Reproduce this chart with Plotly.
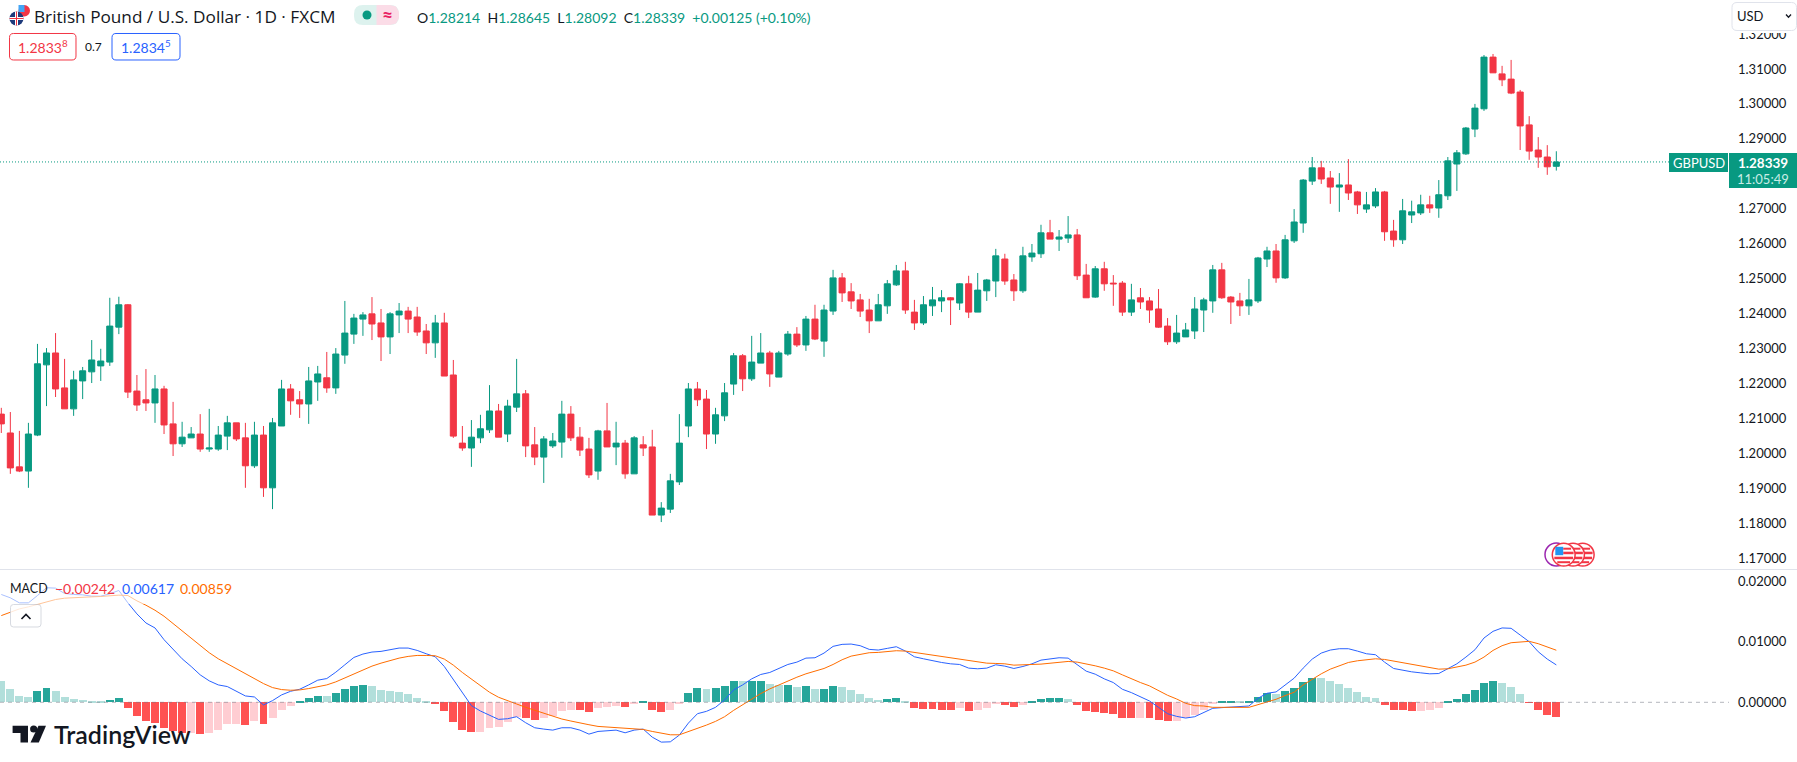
import plotly.graph_objects as go

W, H = 1797, 762

opens = [
    1.2112, 1.2058, 1.1961, 1.1949, 1.2052, 1.2253, 1.2287, 1.2187, 1.2127, 1.2207,
    1.2233, 1.2250, 1.2261, 1.2361, 1.2425, 1.2178, 1.2153, 1.2144, 1.2184, 1.2084,
    1.2027, 1.2044, 1.2055, 1.2012, 1.2012, 1.2049, 1.2087, 1.2044, 1.1964, 1.2052,
    1.1901, 1.2078, 1.2184, 1.2153, 1.2141, 1.2204, 1.2216, 1.2187, 1.2281, 1.2341,
    1.2384, 1.2399, 1.2373, 1.2333, 1.2396, 1.2407, 1.2390, 1.2350, 1.2316, 1.2373,
    1.2224, 1.2029, 1.2015, 1.2044, 1.2067, 1.2121, 1.2055, 1.2132, 1.2170, 1.2024,
    1.1989, 1.2021, 1.2032, 1.2112, 1.2046, 1.2012, 1.1949, 1.2064, 1.2018, 1.2029,
    1.1941, 1.2024, 1.2018, 1.1823, 1.1840, 1.1918, 1.2078, 1.2184, 1.2155, 1.2055,
    1.2107, 1.2198, 1.2279, 1.2213, 1.2258, 1.2287, 1.2218, 1.2284, 1.2341, 1.2310,
    1.2384, 1.2321, 1.2407, 1.2502, 1.2462, 1.2439, 1.2410, 1.2379, 1.2422, 1.2482,
    1.2522, 1.2404, 1.2373, 1.2422, 1.2436, 1.2445, 1.2430, 1.2485, 1.2404, 1.2465,
    1.2493, 1.2556, 1.2496, 1.2465, 1.2562, 1.2571, 1.2631, 1.2613, 1.2616, 1.2625,
    1.2510, 1.2447, 1.2528, 1.2487, 1.2487, 1.2404, 1.2445, 1.2436, 1.2413, 1.2364,
    1.2319, 1.2333, 1.2350, 1.2410, 1.2436, 1.2525, 1.2447, 1.2436, 1.2422, 1.2436,
    1.2556, 1.2579, 1.2502, 1.2608, 1.2659, 1.2779, 1.2817, 1.2788, 1.2762, 1.2768,
    1.2748, 1.2699, 1.2708, 1.2748, 1.2636, 1.2611, 1.2682, 1.2688, 1.2711, 1.2702,
    1.2737, 1.2828, 1.2857, 1.2928, 1.2986, 1.3134, 1.3086, 1.3071, 1.3034, 1.2940,
    1.2868, 1.2848, 1.28214,
]
highs = [
    1.2130, 1.2118, 1.2064, 1.2087, 1.2313, 1.2301, 1.2344, 1.2270, 1.2236, 1.2247,
    1.2324, 1.2299, 1.2445, 1.2448, 1.2427, 1.2224, 1.2241, 1.2224, 1.2193, 1.2147,
    1.2090, 1.2075, 1.2112, 1.2127, 1.2078, 1.2107, 1.2087, 1.2087, 1.2090, 1.2078,
    1.2101, 1.2210, 1.2198, 1.2178, 1.2247, 1.2250, 1.2290, 1.2301, 1.2436, 1.2399,
    1.2404, 1.2447, 1.2413, 1.2404, 1.2430, 1.2419, 1.2419, 1.2370, 1.2396, 1.2402,
    1.2267, 1.2078, 1.2095, 1.2110, 1.2195, 1.2141, 1.2153, 1.2270, 1.2181, 1.2075,
    1.2049, 1.2058, 1.2150, 1.2135, 1.2075, 1.2044, 1.2067, 1.2144, 1.2090, 1.2038,
    1.2049, 1.2049, 1.2067, 1.1860, 1.1941, 1.2112, 1.2201, 1.2204, 1.2181, 1.2130,
    1.2201, 1.2287, 1.2284, 1.2336, 1.2344, 1.2293, 1.2293, 1.2350, 1.2361, 1.2393,
    1.2425, 1.2425, 1.2525, 1.2516, 1.2487, 1.2456, 1.2442, 1.2456, 1.2496, 1.2539,
    1.2548, 1.2439, 1.2450, 1.2476, 1.2467, 1.2447, 1.2487, 1.2508, 1.2516, 1.2499,
    1.2585, 1.2571, 1.2513, 1.2591, 1.2599, 1.2654, 1.2668, 1.2639, 1.2679, 1.2642,
    1.2542, 1.2536, 1.2548, 1.2510, 1.2493, 1.2485, 1.2473, 1.2447, 1.2470, 1.2387,
    1.2396, 1.2373, 1.2447, 1.2445, 1.2539, 1.2545, 1.2450, 1.2459, 1.2499, 1.2562,
    1.2591, 1.2599, 1.2625, 1.2699, 1.2785, 1.2848, 1.2837, 1.2808, 1.2802, 1.2842,
    1.2751, 1.2748, 1.2759, 1.2751, 1.2668, 1.2728, 1.2723, 1.2740, 1.2737, 1.2782,
    1.2848, 1.2868, 1.2934, 1.3000, 1.3140, 1.3143, 1.3109, 1.3126, 1.3040, 1.2965,
    1.2905, 1.2882, 1.28645,
]
lows = [
    1.2058, 1.1941, 1.1946, 1.1901, 1.2049, 1.2135, 1.2161, 1.2127, 1.2107, 1.2155,
    1.2201, 1.2207, 1.2250, 1.2341, 1.2158, 1.2121, 1.2121, 1.2087, 1.2055, 1.1992,
    1.2018, 1.2044, 1.2004, 1.2004, 1.2007, 1.2009, 1.2035, 1.1901, 1.1958, 1.1875,
    1.1840, 1.2078, 1.2110, 1.2101, 1.2084, 1.2150, 1.2173, 1.2170, 1.2256, 1.2313,
    1.2336, 1.2324, 1.2264, 1.2284, 1.2344, 1.2344, 1.2336, 1.2284, 1.2273, 1.2221,
    1.2044, 1.2007, 1.1961, 1.2029, 1.2058, 1.2046, 1.2032, 1.2118, 1.1989, 1.1966,
    1.1915, 1.2015, 1.1987, 1.2035, 1.1992, 1.1929, 1.1924, 1.2018, 1.1966, 1.1927,
    1.1941, 1.1992, 1.1823, 1.1803, 1.1829, 1.1909, 1.2046, 1.2135, 1.2012, 1.2027,
    1.2092, 1.2167, 1.2178, 1.2207, 1.2258, 1.2190, 1.2218, 1.2279, 1.2304, 1.2293,
    1.2324, 1.2276, 1.2396, 1.2433, 1.2413, 1.2390, 1.2344, 1.2379, 1.2399, 1.2479,
    1.2399, 1.2353, 1.2367, 1.2393, 1.2404, 1.2367, 1.2410, 1.2387, 1.2404, 1.2436,
    1.2447, 1.2482, 1.2436, 1.2459, 1.2548, 1.2559, 1.2613, 1.2579, 1.2602, 1.2496,
    1.2445, 1.2445, 1.2465, 1.2422, 1.2393, 1.2393, 1.2413, 1.2373, 1.2359, 1.2310,
    1.2313, 1.2333, 1.2327, 1.2347, 1.2402, 1.2442, 1.2370, 1.2393, 1.2396, 1.2430,
    1.2533, 1.2488, 1.2499, 1.2602, 1.2631, 1.2768, 1.2771, 1.2714, 1.2691, 1.2725,
    1.2685, 1.2688, 1.2702, 1.2608, 1.2591, 1.2599, 1.2659, 1.2682, 1.2688, 1.2674,
    1.2725, 1.2751, 1.2854, 1.2905, 1.2980, 1.3089, 1.3051, 1.3028, 1.2868, 1.2840,
    1.2817, 1.2797, 1.28092,
]
closes = [
    1.2084, 1.1958, 1.1949, 1.2055, 1.2256, 1.2287, 1.2184, 1.2127, 1.2210, 1.2236,
    1.2267, 1.2264, 1.2364, 1.2425, 1.2175, 1.2138, 1.2144, 1.2184, 1.2081, 1.2027,
    1.2046, 1.2055, 1.2012, 1.2015, 1.2052, 1.2087, 1.2041, 1.1964, 1.2052, 1.1901,
    1.2087, 1.2184, 1.2150, 1.2141, 1.2207, 1.2227, 1.2187, 1.2284, 1.2344, 1.2387,
    1.2396, 1.2370, 1.2333, 1.2399, 1.2407, 1.2384, 1.2347, 1.2316, 1.2373, 1.2221,
    1.2049, 1.2015, 1.2046, 1.2070, 1.2121, 1.2046, 1.2135, 1.2170, 1.2021, 1.1989,
    1.2041, 1.2035, 1.2112, 1.2044, 1.2009, 1.1938, 1.2064, 1.2018, 1.2029, 1.1941,
    1.2044, 1.2015, 1.1823, 1.1843, 1.1921, 1.2029, 1.2184, 1.2153, 1.2055, 1.2110,
    1.2173, 1.2279, 1.2213, 1.2261, 1.2287, 1.2227, 1.2287, 1.2341, 1.2310, 1.2384,
    1.2327, 1.2410, 1.2502, 1.2459, 1.2436, 1.2407, 1.2379, 1.2425, 1.2485, 1.2522,
    1.2410, 1.2373, 1.2425, 1.2439, 1.2445, 1.2439, 1.2485, 1.2404, 1.2467, 1.2496,
    1.2565, 1.2493, 1.2465, 1.2565, 1.2573, 1.2631, 1.2613, 1.2619, 1.2625, 1.2508,
    1.2445, 1.2528, 1.2485, 1.2485, 1.2404, 1.2439, 1.2433, 1.2410, 1.2361, 1.2319,
    1.2344, 1.2353, 1.2413, 1.2439, 1.2525, 1.2445, 1.2433, 1.2422, 1.2439, 1.2559,
    1.2579, 1.2502, 1.2611, 1.2662, 1.2782, 1.2817, 1.2785, 1.2762, 1.2768, 1.2745,
    1.2711, 1.2711, 1.2748, 1.2634, 1.2611, 1.2694, 1.2691, 1.2711, 1.2702, 1.2740,
    1.2837, 1.2860, 1.2931, 1.2988, 1.3134, 1.3089, 1.3069, 1.3031, 1.2937, 1.2865,
    1.2848, 1.2820, 1.28339,
]
macd_line = [
    0.01779, 0.01724, 0.01641, 0.01641, 0.01762, 0.01890, 0.01884, 0.01796, 0.01779, 0.01773,
    0.01751, 0.01751, 0.01790, 0.01845, 0.01641, 0.01459, 0.01309, 0.01227, 0.01033, 0.00867,
    0.00718, 0.00591, 0.00453, 0.00354, 0.00287, 0.00260, 0.00188, 0.00105, 0.00088, -0.00044,
    0.00028, 0.00122, 0.00182, 0.00215, 0.00287, 0.00365, 0.00392, 0.00497, 0.00619, 0.00740,
    0.00796, 0.00829, 0.00840, 0.00867, 0.00895, 0.00895, 0.00856, 0.00801, 0.00751, 0.00591,
    0.00370, 0.00149, -0.00055, -0.00144, -0.00210, -0.00282, -0.00271, -0.00238, -0.00337, -0.00420,
    -0.00442, -0.00459, -0.00420, -0.00420, -0.00459, -0.00525, -0.00481, -0.00464, -0.00459, -0.00503,
    -0.00459, -0.00442, -0.00575, -0.00657, -0.00652, -0.00541, -0.00343, -0.00188, -0.00149, -0.00083,
    0.00039, 0.00204, 0.00287, 0.00387, 0.00459, 0.00492, 0.00558, 0.00624, 0.00663, 0.00729,
    0.00735, 0.00812, 0.00923, 0.00956, 0.00961, 0.00934, 0.00873, 0.00862, 0.00890, 0.00917,
    0.00845, 0.00751, 0.00718, 0.00685, 0.00657, 0.00635, 0.00624, 0.00564, 0.00553, 0.00564,
    0.00619, 0.00597, 0.00558, 0.00591, 0.00635, 0.00696, 0.00718, 0.00735, 0.00729, 0.00624,
    0.00514, 0.00464, 0.00387, 0.00326, 0.00215, 0.00160, 0.00088, 0.00022, -0.00083, -0.00188,
    -0.00232, -0.00260, -0.00238, -0.00171, -0.00099, -0.00088, -0.00077, -0.00077, -0.00061, 0.00066,
    0.00149, 0.00171, 0.00282, 0.00398, 0.00564, 0.00713, 0.00812, 0.00862, 0.00884, 0.00884,
    0.00845, 0.00801, 0.00785, 0.00663, 0.00558, 0.00525, 0.00503, 0.00486, 0.00470, 0.00475,
    0.00558, 0.00635, 0.00746, 0.00867, 0.01061, 0.01171, 0.01227, 0.01221, 0.01110, 0.01000,
    0.00834, 0.00713, 0.00617,
]
signal_line = [
    0.01431, 0.01486, 0.01541, 0.01575, 0.01613, 0.01658, 0.01696, 0.01718, 0.01729, 0.01735,
    0.01740, 0.01746, 0.01757, 0.01768, 0.01762, 0.01674, 0.01602, 0.01519, 0.01420, 0.01298,
    0.01177, 0.01055, 0.00934, 0.00818, 0.00718, 0.00635, 0.00553, 0.00464, 0.00392, 0.00309,
    0.00243, 0.00210, 0.00199, 0.00204, 0.00227, 0.00260, 0.00287, 0.00337, 0.00403, 0.00464,
    0.00530, 0.00597, 0.00646, 0.00691, 0.00729, 0.00757, 0.00773, 0.00773, 0.00768, 0.00713,
    0.00613, 0.00492, 0.00381, 0.00265, 0.00166, 0.00083, 0.00022, -0.00028, -0.00083, -0.00133,
    -0.00182, -0.00227, -0.00276, -0.00309, -0.00343, -0.00370, -0.00398, -0.00409, -0.00420, -0.00431,
    -0.00442, -0.00448, -0.00481, -0.00514, -0.00536, -0.00536, -0.00486, -0.00436, -0.00376, -0.00315,
    -0.00238, -0.00133, -0.00039, 0.00061, 0.00144, 0.00221, 0.00287, 0.00359, 0.00414, 0.00470,
    0.00508, 0.00558, 0.00624, 0.00702, 0.00762, 0.00796, 0.00818, 0.00823, 0.00840, 0.00851,
    0.00845, 0.00823, 0.00801, 0.00773, 0.00751, 0.00724, 0.00707, 0.00685, 0.00663, 0.00646,
    0.00641, 0.00635, 0.00613, 0.00613, 0.00624, 0.00630, 0.00646, 0.00663, 0.00674, 0.00663,
    0.00635, 0.00602, 0.00564, 0.00519, 0.00453, 0.00387, 0.00326, 0.00271, 0.00193, 0.00116,
    0.00055, -0.00017, -0.00055, -0.00061, -0.00083, -0.00083, -0.00083, -0.00083, -0.00083, -0.00039,
    0.00006, 0.00050, 0.00111, 0.00166, 0.00287, 0.00381, 0.00470, 0.00547, 0.00608, 0.00657,
    0.00685, 0.00707, 0.00718, 0.00707, 0.00680, 0.00646, 0.00619, 0.00591, 0.00564, 0.00547,
    0.00553, 0.00580, 0.00613, 0.00663, 0.00746, 0.00856, 0.00934, 0.00983, 0.01000, 0.01006,
    0.00967, 0.00917, 0.00859,
]
histogram = [
    0.00354, 0.00221, 0.00105, 0.00088, 0.00188, 0.00238, 0.00188, 0.00088, 0.00055, 0.00039,
    0.00022, 0.00006, 0.00039, 0.00072, -0.00094, -0.00227, -0.00309, -0.00343, -0.00425, -0.00470,
    -0.00508, -0.00503, -0.00525, -0.00508, -0.00459, -0.00365, -0.00359, -0.00376, -0.00309, -0.00359,
    -0.00260, -0.00127, -0.00061, 0.00006, 0.00072, 0.00105, 0.00099, 0.00155, 0.00221, 0.00271,
    0.00287, 0.00271, 0.00204, 0.00188, 0.00171, 0.00138, 0.00072, 0.00006, -0.00028, -0.00144,
    -0.00326, -0.00459, -0.00492, -0.00486, -0.00425, -0.00409, -0.00326, -0.00238, -0.00260, -0.00293,
    -0.00260, -0.00227, -0.00144, -0.00127, -0.00133, -0.00160, -0.00094, -0.00077, -0.00061, -0.00077,
    -0.00022, 0.00006, -0.00127, -0.00160, -0.00127, -0.00017, 0.00155, 0.00238, 0.00221, 0.00238,
    0.00271, 0.00354, 0.00348, 0.00354, 0.00359, 0.00304, 0.00287, 0.00293, 0.00254, 0.00271,
    0.00221, 0.00227, 0.00271, 0.00254, 0.00204, 0.00138, 0.00072, 0.00039, 0.00055, 0.00072,
    0.00006, -0.00094, -0.00110, -0.00116, -0.00122, -0.00127, -0.00094, -0.00144, -0.00127, -0.00094,
    -0.00028, -0.00044, -0.00077, -0.00044, 0.00006, 0.00055, 0.00072, 0.00077, 0.00055, -0.00044,
    -0.00144, -0.00160, -0.00177, -0.00193, -0.00260, -0.00265, -0.00260, -0.00265, -0.00293, -0.00309,
    -0.00304, -0.00260, -0.00210, -0.00133, -0.00028, 0.00006, 0.00011, 0.00006, 0.00011, 0.00088,
    0.00155, 0.00138, 0.00188, 0.00238, 0.00337, 0.00403, 0.00398, 0.00354, 0.00304, 0.00238,
    0.00171, 0.00088, 0.00072, -0.00044, -0.00127, -0.00133, -0.00144, -0.00138, -0.00133, -0.00094,
    0.00006, 0.00055, 0.00138, 0.00204, 0.00320, 0.00354, 0.00320, 0.00254, 0.00138, -0.00006,
    -0.00127, -0.00210, -0.00242,
]
# 1.28 sits behind the last price label, so the reference never shows it
price_ticks = [1.17, 1.18, 1.19, 1.20, 1.21, 1.22, 1.23, 1.24, 1.25, 1.26, 1.27, 1.29, 1.30, 1.31, 1.32]
macd_ticks = [0.0, 0.01, 0.02]

UP, DOWN = "#089981", "#F23645"
INK = "#131722"
FONT = "Lato"
days = list(range(len(closes)))


def hist_colour(i):
    prev = histogram[i - 1] if i else float("inf")
    if histogram[i] >= 0:
        return "#26A69A" if histogram[i] > prev else "#B2DFDB"
    return "#FFCDD2" if histogram[i] > prev else "#FF5252"


# everything around the plot is placed in screen pixels
def px(x):
    return x / W


def py(y):
    return 1 - y / H


def box(x0, y0, x1, y1, fill="white", line=None, width=1, opacity=1, kind="rect"):
    return dict(type=kind, xref="paper", yref="paper", x0=px(x0), x1=px(x1), y0=py(y0), y1=py(y1),
                fillcolor=fill, opacity=opacity, line=dict(color=line or fill, width=width if line else 0))


def path(points, fill=None, line=None, width=1, close=True):
    d = "M" + " L".join(f"{px(a):.5f},{py(b):.5f}" for a, b in points) + (" Z" if close else "")
    return dict(type="path", xref="paper", yref="paper", path=d, fillcolor=fill or "rgba(0,0,0,0)",
                line=dict(color=line or "rgba(0,0,0,0)", width=width))


def round_box(x0, y0, x1, y1, r, fill="white", line=None, width=1, opacity=1):
    a, b = r / W, r / H
    l, t, rr, bt = px(x0), py(y0), px(x1), py(y1)
    d = (f"M{l + a:.5f},{t:.5f} L{rr - a:.5f},{t:.5f} Q{rr:.5f},{t:.5f} {rr:.5f},{t - b:.5f} "
         f"L{rr:.5f},{bt + b:.5f} Q{rr:.5f},{bt:.5f} {rr - a:.5f},{bt:.5f} "
         f"L{l + a:.5f},{bt:.5f} Q{l:.5f},{bt:.5f} {l:.5f},{bt + b:.5f} "
         f"L{l:.5f},{t - b:.5f} Q{l:.5f},{t:.5f} {l + a:.5f},{t:.5f} Z")
    return dict(type="path", xref="paper", yref="paper", path=d, fillcolor=fill, opacity=opacity,
                line=dict(color=line or fill, width=width if line else 0))


def label(x, y, text, size=14, color=INK, anchor="left", weight=None, family=FONT):
    font = dict(family=family, size=size, color=color)
    if weight:
        font["weight"] = weight
    return dict(xref="paper", yref="paper", x=px(x), y=py(y), text=text, showarrow=False, xanchor=anchor,
                yanchor="middle", font=font, borderpad=0, borderwidth=0)


def flag_circle(cx, cy, r, ring):
    return [
        box(cx - r, cy - r, cx + r, cy + r, fill="white", line=ring, width=1.5, kind="circle"),
        box(cx - 0.5, cy - 7, cx + r - 4, cy - 5, fill=ring),
        box(cx - 0.5, cy - 3, cx + r - 1.5, cy - 0.5, fill=ring),
        box(cx - r + 2, cy + 2, cx + r - 2, cy + 4.5, fill=ring),
        box(cx - r + 5, cy + 6.5, cx + r - 5, cy + 8.5, fill=ring),
        box(cx - r + 3, cy - r + 3.5, cx - 0.5, cy + 0.5, fill="#2196F3"),
    ]


fig = go.Figure()
fig.add_trace(go.Bar(x=days, y=histogram, yaxis="y2", width=0.88, marker=dict(color=[hist_colour(i) for i in days], line_width=0), hoverinfo="skip"))
fig.add_trace(go.Scatter(x=days, y=macd_line, yaxis="y2", mode="lines", line=dict(color="#2962FF", width=1), hoverinfo="skip"))
fig.add_trace(go.Scatter(x=days, y=signal_line, yaxis="y2", mode="lines", line=dict(color="#FF6D00", width=1), hoverinfo="skip"))
fig.add_trace(go.Candlestick(
    x=days, open=opens, high=highs, low=lows, close=closes, whiskerwidth=0, hoverinfo="skip",
    increasing=dict(line=dict(color=UP, width=1), fillcolor=UP),
    decreasing=dict(line=dict(color=DOWN, width=1), fillcolor=DOWN),
))

shapes = [
    # price line and zero line
    dict(type="line", xref="paper", yref="y", x0=0, x1=px(1669), y0=closes[-1], y1=closes[-1], line=dict(color=UP, width=1, dash="1px,2px")),
    dict(type="line", xref="paper", yref="y2", x0=0, x1=px(1729), y0=0, y1=0, line=dict(color="rgba(120,123,134,0.55)", width=1, dash="4px,4px")),
    # pane separator
    box(0, 569, W, 570, fill="#E0E3EB"),
    # legend wash over the MACD lines
    box(0, 575, 238, 604, opacity=0.6),
    # USD selector and the strip around it cover the top tick
    box(1729, 0, W, 33),
    round_box(1732, 2.5, 1796.5, 30.5, 5, line="#E0E3EB"),
    path([(1786, 14.5), (1788.5, 17.3), (1791, 14.5)], line=INK, width=1.3, close=False),
    # last price labels
    box(1669, 153, 1728, 172, fill=UP),
    box(1729, 153, W, 188, fill=UP),
    # header status pill
    round_box(354, 5, 399, 25, 9, fill="#DDF2EE"),
    path([(376.5, 5), (390, 5), (396, 6.5), (399, 12), (399, 18), (396, 23.5), (390, 25), (376.5, 25)], fill="#FBDCE7"),
    box(362.5, 10.5, 371.5, 19.5, fill=UP, kind="circle"),
    # order boxes
    round_box(9.5, 33.5, 76, 60, 4, line=DOWN),
    round_box(112, 33.5, 180, 60, 4, line="#2962FF"),
    # symbol flags
    box(18.5, 5, 30, 16.5, fill="#F23645", kind="circle"),
    box(18.5, 5, 24.5, 12, fill="#42A5F5"),
    box(9.5, 11.5, 23.5, 25.5, fill="#1E3A7B", kind="circle"),
    box(15, 11.5, 18, 25.5, fill="white"),
    box(9.5, 17, 23.5, 20, fill="white"),
    box(16, 11.5, 17, 25.5, fill=DOWN),
    box(9.5, 18, 23.5, 19, fill=DOWN),
    # indicator collapse button
    round_box(10.5, 604.5, 41, 627, 3, line="#D1D4DC", opacity=0.85),
    path([(21.5, 619), (26, 614.5), (30.5, 619)], line=INK, width=1.6, close=False),
    # logo
    path([(12.6, 725.7), (28, 725.7), (28, 742.5), (20.5, 742.5), (20.5, 733), (12.6, 733)], fill=INK),
    box(30.1, 725.4, 37.3, 732.6, fill=INK, kind="circle"),
    path([(38.5, 725.7), (46, 725.7), (38.8, 742.5), (30.5, 742.5)], fill=INK),
    # event markers, back to front
    box(1545, 543, 1567.7, 566, line="#9C27B0", width=1.5, kind="circle"),
]
for event_x in [1582.7, 1573, 1563.7]:
    shapes += flag_circle(event_x, 554.7, 11.4, DOWN)


def ohlc(name, value):
    return f"<span style='color:{INK}'>{name}</span>{value}"


annotations = [
    label(34, 16, "British Pound / U.S. Dollar · 1D · FXCM", size=17.2, family="Open Sans"),
    label(387.5, 14.5, "≈", size=19, color="#E91E63", anchor="center", weight="bold"),
    label(417, 17.5, "&nbsp;&nbsp;".join([ohlc("O", "1.28214"), ohlc("H", "1.28645"), ohlc("L", "1.28092"), ohlc("C", "1.28339")])
          + "&nbsp;&nbsp;+0.00125 (+0.10%)", size=14, color=UP),
    label(42.7, 47, "1.2833<sup>8</sup>", size=14, color=DOWN, anchor="center"),
    label(85, 47, "0.7", size=12),
    label(146, 47, "1.2834<sup>5</sup>", size=14, color="#2962FF", anchor="center"),
    label(1737, 16, "USD", size=13),
    label(1698.5, 163, "GBPUSD", size=13, color="white", anchor="center"),
    label(1763, 163, "1.28339", size=13.5, color="white", anchor="center", weight="bold"),
    label(1763, 179.5, "11:05:49", size=13, color="#C8EDE6", anchor="center"),
    label(10, 588, "MACD", size=12.5),
    label(55, 588, "−0.00242", size=14, color=DOWN),
    label(122, 588, "0.00617", size=14, color="#2962FF"),
    label(180, 588, "0.00859", size=14, color="#FF6D00"),
    label(54, 734, "TradingView", size=25, weight=600),
]

axis_font = dict(family=FONT, size=13, color=INK)
fig.update_layout(
    width=W, height=H, margin=dict(l=0, r=0, t=0, b=0), autosize=False, showlegend=False,
    paper_bgcolor="white", plot_bgcolor="white", boxgap=0.33, boxgroupgap=0, bargap=0,
    xaxis=dict(domain=[0, 1729 / W], range=[-0.144, 191.1], visible=False, rangeslider=dict(visible=False), fixedrange=True),
    # y range picked so 1.31 sits at 69 px and 1.17 at 558 px
    yaxis=dict(domain=[1 - 569 / H, 1], range=[1.16686, 1.32975], side="right", anchor="x", tickvals=price_ticks, tickformat=".5f",
               showgrid=False, zeroline=False, showline=False, ticklen=0, ticklabelstandoff=8, tickfont=axis_font, fixedrange=True),
    yaxis2=dict(domain=[0, 1 - 570 / H], range=[-0.00985, 0.02183], side="right", anchor="x", tickvals=macd_ticks, tickformat=".5f",
                showgrid=False, zeroline=False, showline=False, ticklen=0, ticklabelstandoff=8, tickfont=axis_font, fixedrange=True),
    shapes=shapes, annotations=annotations,
)

fig.write_html("out.html", config={"displayModeBar": False}, post_script="document.body.style.margin='0';")
